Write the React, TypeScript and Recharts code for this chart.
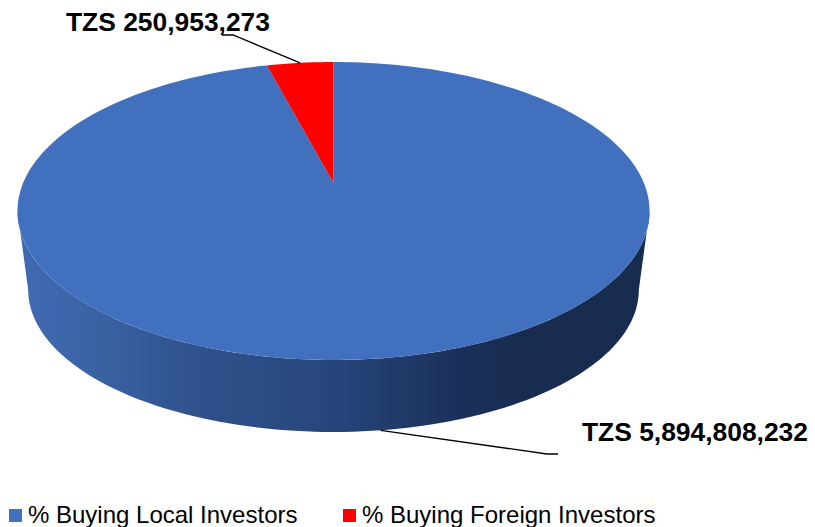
import React from 'react';
import { PieChart, Pie, Legend } from 'recharts';

const categories = ['% Buying Local Investors', '% Buying Foreign Investors'];
const amounts = [5894808232, 250953273];
const colors = ['#4170BF', '#FF0000'];

const tableData = categories.map((name, i) => ({ name, value: amounts[i], fill: colors[i] }));

const FONT = '"Liberation Sans", Arial, sans-serif';

// perspective of the tilted disc
const TILT = 0.463;
const PERSP = 0.188;
// bottom rim of the disc relative to the top rim
const RIM_SCALE_X = 0.966;
const RIM_SCALE_Y = 0.953;
const TOP_MID_Y = 211;
const BOTTOM_MID_Y = 290;
// angles where the top rim is widest, the wall is visible between them
const WALL_FROM = -169.2;
const WALL_TO = -10.8;

type Pt = [number, number];

const project = (cx: number, cy: number, r: number, deg: number): Pt => {
  const a = (deg * Math.PI) / 180;
  const u = Math.cos(a);
  const v = Math.sin(a);
  const d = 1 + PERSP * v;
  return [cx + (r * u) / d, cy - (r * TILT * v) / d];
};

const toRim = (cx: number, p: Pt): Pt => [
  cx + (p[0] - cx) * RIM_SCALE_X,
  BOTTOM_MID_Y + (p[1] - TOP_MID_Y) * RIM_SCALE_Y,
];

const arc = (cx: number, cy: number, r: number, from: number, to: number): Pt[] => {
  const n = Math.max(2, Math.ceil(Math.abs(to - from) / 1.5));
  const out: Pt[] = [];
  for (let i = 0; i <= n; i++) out.push(project(cx, cy, r, from + ((to - from) * i) / n));
  return out;
};

const toPath = (pts: Pt[]) =>
  'M' + pts.map((p) => `${p[0].toFixed(2)},${p[1].toFixed(2)}`).join('L') + 'Z';

const DiscSlice = (props: any) => {
  const { cx, cy, outerRadius, startAngle, endAngle, fill } = props;
  const lo = Math.max(Math.min(startAngle, endAngle), WALL_FROM);
  const hi = Math.min(Math.max(startAngle, endAngle), WALL_TO);
  const wallTop = hi > lo ? arc(cx, cy, outerRadius, lo, hi) : [];
  const wallBottom = wallTop.map((p) => toRim(cx, p)).reverse();
  return (
    <g>
      {wallTop.length > 0 && (
        <>
          <defs>
            <linearGradient id="wallShade" gradientUnits="userSpaceOnUse" x1={18} x2={649} y1={0} y2={0}>
              <stop offset="0" stopColor="#3F6BB3" />
              <stop offset="0.13" stopColor="#3A62A3" />
              <stop offset="0.27" stopColor="#30528D" />
              <stop offset="0.5" stopColor="#26467B" />
              <stop offset="0.7" stopColor="#1B3059" />
              <stop offset="0.8" stopColor="#182C50" />
              <stop offset="1" stopColor="#182C50" />
            </linearGradient>
          </defs>
          <path d={toPath([...wallTop, ...wallBottom])} fill="url(#wallShade)" stroke="none" />
        </>
      )}
      <path
        d={toPath([[cx, cy], ...arc(cx, cy, outerRadius, startAngle, endAngle)])}
        fill={fill}
        stroke="none"
      />
    </g>
  );
};

const labelSpots = [
  { x: 582, y: 441, elbow: [547, 454], end: [558, 454], onWall: true },
  { x: 66, y: 31, elbow: [233, 35], end: [222, 35], onWall: false },
];

const SliceLabel = (props: any) => {
  const { cx, cy, outerRadius, midAngle, value, index } = props;
  const spot = labelSpots[index];
  const top = project(cx, cy, outerRadius, midAngle);
  const start = spot.onWall ? toRim(cx, top) : top;
  return (
    <g>
      <polyline
        points={`${start[0]},${start[1]} ${spot.elbow[0]},${spot.elbow[1]} ${spot.end[0]},${spot.end[1]}`}
        fill="none"
        stroke="#000"
        strokeWidth={1.3}
      />
      <text x={spot.x} y={spot.y} fontFamily={FONT} fontSize={26.4} fontWeight={700} fill="#000">
        {`TZS ${Number(value).toLocaleString('en-US')}`}
      </text>
    </g>
  );
};

const legendStarts = [9, 343];

const LegendRow = ({ payload }: any) => (
  <div style={{ position: 'relative', width: 815, height: 30, fontFamily: FONT, fontSize: 24, color: '#000' }}>
    {(payload || []).map((item: any, i: number) => (
      <div key={item.value} style={{ position: 'absolute', left: legendStarts[i], top: 3, whiteSpace: 'nowrap', lineHeight: '30px' }}>
        <span style={{ position: 'absolute', left: 0, top: 9, width: 13, height: 13, background: item.color }} />
        <span style={{ marginLeft: 19 }}>{item.value}</span>
      </div>
    ))}
  </div>
);

export default function App() {
  return (
    <div style={{ position: 'absolute', left: 0, top: 0, width: 815, height: 527 }}>
      <PieChart width={815} height={527} margin={{ top: 0, right: 0, bottom: 0, left: 0 }}>
        <Pie
          data={tableData}
          dataKey="value"
          nameKey="name"
          cx={333.5}
          cy={183}
          outerRadius={310.4}
          startAngle={90}
          endAngle={-270}
          stroke="none"
          shape={DiscSlice}
          label={SliceLabel}
          labelLine={false}
          isAnimationActive={false}
        />
        <Legend
          content={LegendRow}
          itemSorter={null}
          wrapperStyle={{ position: 'absolute', left: 0, top: 497, width: 815, height: 30 }}
        />
      </PieChart>
    </div>
  );
}
